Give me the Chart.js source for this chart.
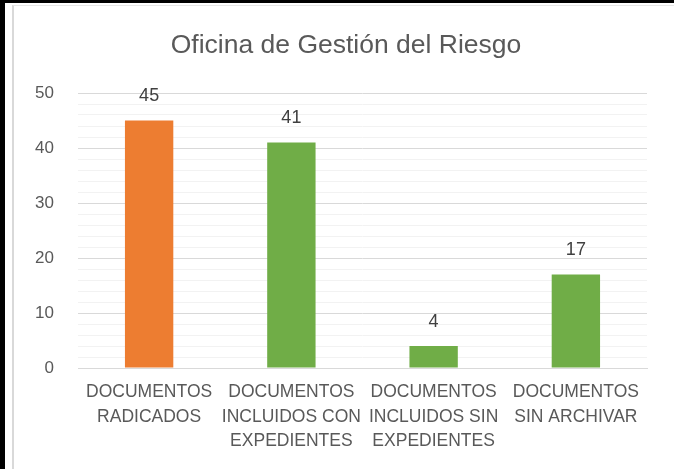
<!DOCTYPE html>
<html>
<head>
<meta charset="utf-8">
<script src="https://cdn.jsdelivr.net/npm/chart.js@4/dist/chart.umd.min.js"></script>
<style>
  html, body { margin: 0; padding: 0; background: #fff; }
  #wrap { position: relative; width: 674px; height: 469px; overflow: hidden; }
  #frame { position: absolute; left: 0; top: 0; width: 674px; height: 469px;
           box-sizing: border-box; border-top: 3px solid #000; border-left: 5px solid #000;
           pointer-events: none; }
  #frame2 { position: absolute; left: 12px; top: 5px; width: 662px; height: 464px;
            box-sizing: border-box; border-top: 1px solid #e6e6e6; border-left: 2px solid #d9d9d9;
            pointer-events: none; }
  canvas { position: absolute; left: 0; top: 0; }
</style>
</head>
<body>
<div id="wrap">
  <canvas id="mychart" width="674" height="469"></canvas>
  <div id="frame"></div>
  <div id="frame2"></div>
</div>
<script>
/* Oficina de Gestión del Riesgo */
var title = "Oficina de Gestión del Riesgo";
var categories = [
  ["DOCUMENTOS", "RADICADOS"],
  ["DOCUMENTOS", "INCLUIDOS CON", "EXPEDIENTES"],
  ["DOCUMENTOS", "INCLUIDOS SIN", "EXPEDIENTES"],
  ["DOCUMENTOS", "SIN ARCHIVAR"]
];
var values = [45, 41, 4, 17];
var barColors = ["#ED7D31", "#70AD47", "#70AD47", "#70AD47"];
var yTicks = [0, 10, 20, 30, 40, 50];

var font = "'Liberation Sans', Arial, sans-serif";

// value labels above the bars + the title (Excel centres it on the whole frame)
var valueLabels = {
  id: "valueLabels",
  afterDatasetsDraw: function (chart) {
    var ctx = chart.ctx;
    var meta = chart.getDatasetMeta(0);
    ctx.save();
    ctx.font = "18px " + font;
    ctx.fillStyle = "#404040";
    ctx.textAlign = "center";
    ctx.textBaseline = "middle";
    meta.data.forEach(function (bar, i) {
      ctx.fillText(values[i], bar.x, bar.y - 24);
    });
    ctx.font = "26.5px " + font;
    ctx.fillStyle = "#595959";
    ctx.fillText(title, 346, 46);
    ctx.restore();
  }
};

function drawChart(selector) {
  var ctx = document.getElementById(selector);
  if (ctx) {
    new Chart(ctx, {
      type: "bar",
      data: {
        labels: categories,
        datasets: [{
          data: values,
          backgroundColor: barColors,
          barPercentage: 0.34,
          categoryPercentage: 1.0
        }]
      },
      options: {
        responsive: false,
        animation: false,
        layout: { padding: { left: 0, right: 27, top: 93, bottom: 0 } },
        plugins: {
          legend: { display: false },
          tooltip: { enabled: false },
          title: { display: false }
        },
        scales: {
          x: {
            grid: { display: false, drawTicks: false },
            border: { display: true, color: "#D9D9D9", width: 1 },
            ticks: {
              color: "#595959",
              font: { family: font, size: 17.5, lineHeight: 1.4 },
              padding: 12,
              maxRotation: 0,
              autoSkip: false
            },
            afterFit: function (scale) { scale.height = 101; }
          },
          y: {
            min: 0,
            max: 50,
            grid: {
              drawTicks: false,
              color: function (c) {
                return c.tick.value % 10 === 0 ? "#D9D9D9" : "#F2F2F2";
              },
              lineWidth: 1
            },
            border: { display: false },
            ticks: {
              stepSize: 2,
              autoSkip: false,
              maxTicksLimit: 30,
              color: "#595959",
              font: { family: font, size: 17 },
              padding: 24,
              callback: function (v) {
                return yTicks.indexOf(v) >= 0 ? v : "";
              }
            },
            afterFit: function (scale) { scale.width = 78; }
          }
        }
      },
      plugins: [valueLabels]
    });
  }
}
drawChart("mychart");
</script>
</body>
</html>
